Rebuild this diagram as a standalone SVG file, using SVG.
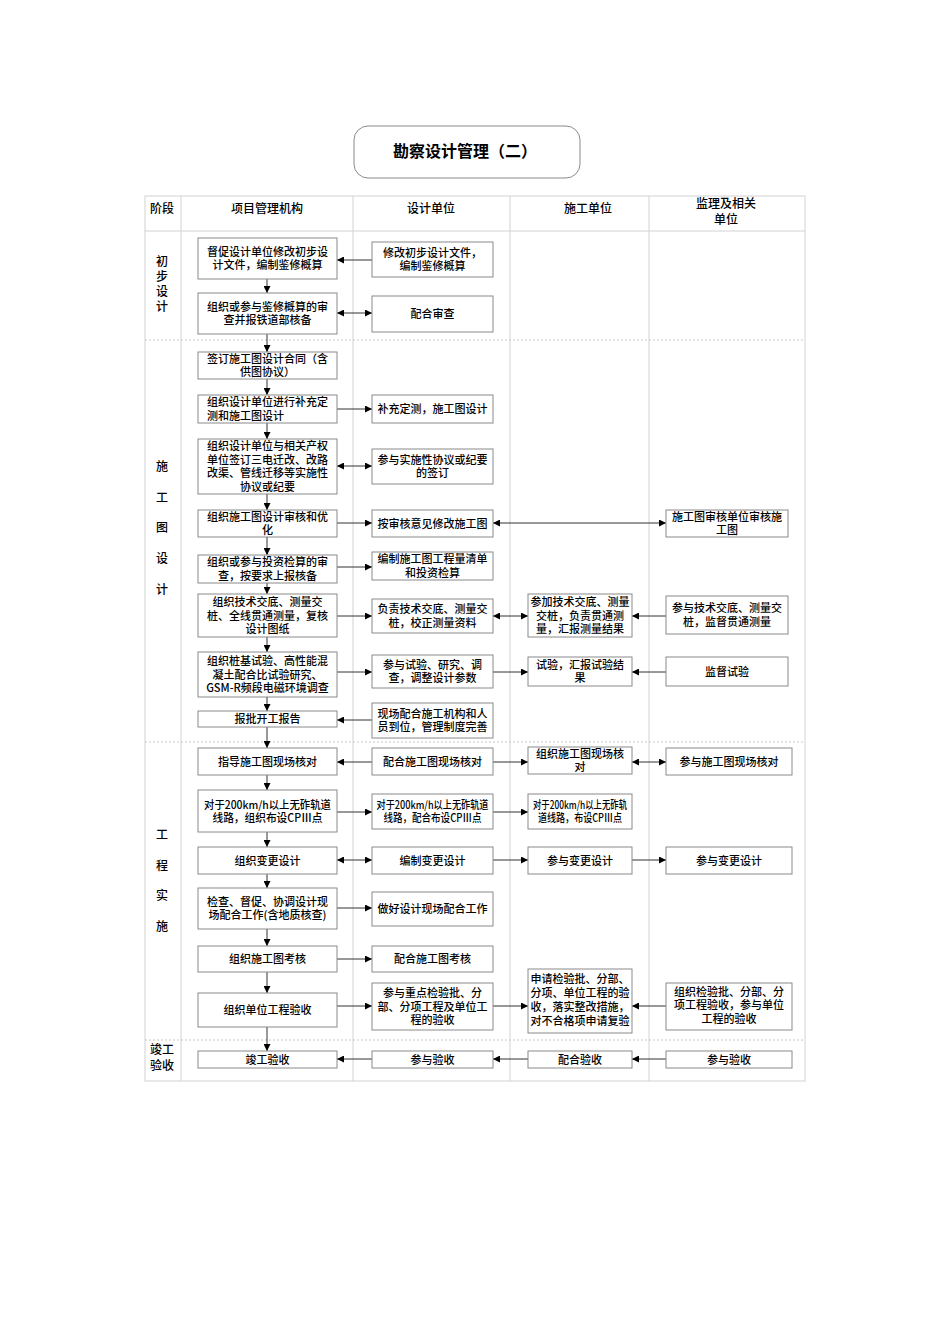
<svg xmlns="http://www.w3.org/2000/svg" width="950" height="1344" viewBox="0 0 950 1344">
<style>
text{font-family:"Noto Sans CJK SC","Noto Sans CJK JP",sans-serif;font-size:11px;fill:#000;text-anchor:middle;font-weight:500}
.hd{font-size:12px}
.st{font-size:12px}
.title{font-size:16px;font-weight:bold}
.box{fill:#fff;stroke:#8a8a8a;stroke-width:1}
.grid{stroke:#d2d2d2;stroke-width:1;fill:none}
.dash{stroke:#c8c8c8;stroke-width:1;stroke-dasharray:2 2;fill:none}
.c{stroke:#333;stroke-width:1;fill:none;marker-end:url(#ah)}
.d{stroke:#333;stroke-width:1;fill:none;marker-end:url(#ah);marker-start:url(#ah)}
</style>
<defs>
<marker id="ah" viewBox="0 0 10 10" refX="10" refY="5" markerWidth="8" markerHeight="7" markerUnits="userSpaceOnUse" orient="auto-start-reverse">
<path d="M0,0 L10,5 L0,10 z" fill="#000"/>
</marker>
</defs>
<rect width="950" height="1344" fill="#fff"/>

<g id="title">
<rect x="354" y="126" width="226" height="52" rx="14" fill="#fff" stroke="#8a8a8a"/>
<text class="title" x="465" y="157">勘察设计管理（二）</text>
</g>

<g id="table">
<rect class="grid" x="145" y="196" width="660" height="885"/>
<line class="grid" x1="145" y1="231" x2="805" y2="231"/>
<line class="grid" x1="181" y1="196" x2="181" y2="1081"/>
<line class="grid" x1="353" y1="196" x2="353" y2="1081"/>
<line class="grid" x1="510" y1="196" x2="510" y2="1081"/>
<line class="grid" x1="649" y1="196" x2="649" y2="1081"/>
<line class="dash" x1="145" y1="340" x2="805" y2="340"/>
<line class="dash" x1="145" y1="742" x2="805" y2="742"/>
<line class="dash" x1="145" y1="1040" x2="805" y2="1040"/>
<text class="hd" x="162" y="213">阶段</text>
<text class="hd" x="267" y="213">项目管理机构</text>
<text class="hd" x="431" y="213">设计单位</text>
<text class="hd" x="588" y="213">施工单位</text>
<text class="hd" x="726" y="208">监理及相关</text>
<text class="hd" x="726" y="224">单位</text>
</g>

<g id="stages">
<text class="st" x="162" y="266">初</text>
<text class="st" x="162" y="281">步</text>
<text class="st" x="162" y="296">设</text>
<text class="st" x="162" y="311">计</text>
<text class="st" x="162" y="471">施</text>
<text class="st" x="162" y="502">工</text>
<text class="st" x="162" y="532">图</text>
<text class="st" x="162" y="563">设</text>
<text class="st" x="162" y="594">计</text>
<text class="st" x="162" y="839">工</text>
<text class="st" x="162" y="870">程</text>
<text class="st" x="162" y="900">实</text>
<text class="st" x="162" y="931">施</text>
<text class="st" x="162" y="1054">竣工</text>
<text class="st" x="162" y="1070">验收</text>
</g>

<g id="connectors">
<line class="c" x1="267" y1="279" x2="267" y2="293"/>
<line class="c" x1="267" y1="334" x2="267" y2="352"/>
<line class="c" x1="267" y1="379" x2="267" y2="395"/>
<line class="c" x1="267" y1="423" x2="267" y2="439"/>
<line class="c" x1="267" y1="494" x2="267" y2="510"/>
<line class="c" x1="267" y1="537" x2="267" y2="555"/>
<line class="c" x1="267" y1="583" x2="267" y2="594"/>
<line class="c" x1="267" y1="637" x2="267" y2="652"/>
<line class="c" x1="267" y1="697" x2="267" y2="711"/>
<line class="c" x1="267" y1="727" x2="267" y2="748"/>
<line class="c" x1="267" y1="775" x2="267" y2="790"/>
<line class="c" x1="267" y1="832" x2="267" y2="847"/>
<line class="c" x1="267" y1="874" x2="267" y2="888"/>
<line class="c" x1="267" y1="929" x2="267" y2="946"/>
<line class="c" x1="267" y1="972" x2="267" y2="993"/>
<line class="c" x1="267" y1="1027" x2="267" y2="1051"/>

<line class="c" x1="372" y1="260" x2="337" y2="260"/>
<line class="d" x1="337" y1="313" x2="372" y2="313"/>
<line class="c" x1="337" y1="409" x2="372" y2="409"/>
<line class="d" x1="337" y1="466" x2="372" y2="466"/>
<line class="c" x1="337" y1="523" x2="372" y2="523"/>
<line class="d" x1="493" y1="523" x2="666" y2="523"/>
<line class="c" x1="337" y1="567" x2="372" y2="567"/>
<line class="c" x1="337" y1="616" x2="372" y2="616"/>
<line class="d" x1="493" y1="616" x2="528" y2="616"/>
<line class="c" x1="666" y1="616" x2="632" y2="616"/>
<line class="c" x1="337" y1="672" x2="372" y2="672"/>
<line class="c" x1="493" y1="672" x2="528" y2="672"/>
<line class="c" x1="666" y1="672" x2="632" y2="672"/>
<line class="c" x1="372" y1="720" x2="337" y2="720"/>
<line class="c" x1="372" y1="762" x2="337" y2="762"/>
<line class="c" x1="493" y1="762" x2="528" y2="762"/>
<line class="d" x1="632" y1="762" x2="666" y2="762"/>
<line class="c" x1="337" y1="812" x2="372" y2="812"/>
<line class="c" x1="493" y1="812" x2="528" y2="812"/>
<line class="d" x1="337" y1="860" x2="372" y2="860"/>
<line class="c" x1="493" y1="860" x2="528" y2="860"/>
<line class="c" x1="632" y1="860" x2="666" y2="860"/>
<line class="c" x1="337" y1="908" x2="372" y2="908"/>
<line class="c" x1="337" y1="959" x2="372" y2="959"/>
<line class="c" x1="337" y1="1006" x2="372" y2="1006"/>
<line class="c" x1="493" y1="1006" x2="528" y2="1006"/>
<line class="c" x1="666" y1="1006" x2="632" y2="1006"/>
<line class="c" x1="372" y1="1059" x2="337" y2="1059"/>
<line class="c" x1="528" y1="1059" x2="493" y2="1059"/>
<line class="c" x1="666" y1="1059" x2="632" y2="1059"/>
</g>

<g id="pmA"><rect class="box" x="198" y="238" width="139" height="41"/><text x="267.5" y="255.5">督促设计单位修改初步设</text><text x="267.5" y="269">计文件，编制鉴修概算</text></g>
<g id="dA"><rect class="box" x="372" y="242" width="121" height="35"/><text x="432.5" y="256.5">修改初步设计文件，</text><text x="432.5" y="270">编制鉴修概算</text></g>
<g id="pmB"><rect class="box" x="198" y="293" width="139" height="41"/><text x="267.5" y="310.5">组织或参与鉴修概算的审</text><text x="267.5" y="324">查并报铁道部核备</text></g>
<g id="dB"><rect class="box" x="372" y="296" width="121" height="36"/><text x="432.5" y="318">配合审查</text></g>
<g id="pmC"><rect class="box" x="198" y="352" width="139" height="27"/><text x="267.5" y="362.5">签订施工图设计合同（含</text><text x="267.5" y="376">供图协议）</text></g>
<g id="pmD"><rect class="box" x="198" y="395" width="139" height="28"/><text x="207" y="406" style="text-anchor:start">组织设计单位进行补充定</text><text x="207" y="419.5" style="text-anchor:start">测和施工图设计</text></g>
<g id="dD"><rect class="box" x="372" y="395" width="121" height="28"/><text x="432.5" y="413">补充定测，施工图设计</text></g>
<g id="pmE"><rect class="box" x="198" y="439" width="139" height="55"/><text x="267.5" y="450">组织设计单位与相关产权</text><text x="267.5" y="463.5">单位签订三电迁改、改路</text><text x="267.5" y="477">改渠、管线迁移等实施性</text><text x="267.5" y="490.5">协议或纪要</text></g>
<g id="dE"><rect class="box" x="372" y="449" width="121" height="35"/><text x="432.5" y="463.5">参与实施性协议或纪要</text><text x="432.5" y="477">的签订</text></g>
<g id="pmF"><rect class="box" x="198" y="510" width="139" height="27"/><text x="267.5" y="520.5">组织施工图设计审核和优</text><text x="267.5" y="534">化</text></g>
<g id="dF"><rect class="box" x="372" y="510" width="121" height="27"/><text x="432.5" y="527.5">按审核意见修改施工图</text></g>
<g id="sF"><rect class="box" x="666" y="510" width="122" height="27"/><text x="727" y="520.5">施工图审核单位审核施</text><text x="727" y="534">工图</text></g>
<g id="pmG"><rect class="box" x="198" y="555" width="139" height="28"/><text x="267.5" y="566">组织或参与投资检算的审</text><text x="267.5" y="579.5">查，按要求上报核备</text></g>
<g id="dG"><rect class="box" x="372" y="552" width="121" height="28"/><text x="432.5" y="563">编制施工图工程量清单</text><text x="432.5" y="576.5">和投资检算</text></g>
<g id="pmH"><rect class="box" x="198" y="594" width="139" height="43"/><text x="267.5" y="606">组织技术交底、测量交</text><text x="267.5" y="619.5">桩、全线贯通测量，复核</text><text x="267.5" y="633">设计图纸</text></g>
<g id="dH"><rect class="box" x="372" y="599" width="121" height="34"/><text x="432.5" y="613">负责技术交底、测量交</text><text x="432.5" y="626.5">桩，校正测量资料</text></g>
<g id="cH"><rect class="box" x="528" y="594" width="104" height="43"/><text x="580" y="606">参加技术交底、测量</text><text x="580" y="619.5">交桩，负责贯通测</text><text x="580" y="633">量，汇报测量结果</text></g>
<g id="sH"><rect class="box" x="666" y="596" width="122" height="38"/><text x="727" y="612">参与技术交底、测量交</text><text x="727" y="625.5">桩，监督贯通测量</text></g>
<g id="pmI"><rect class="box" x="198" y="652" width="139" height="45"/><text x="267.5" y="665">组织桩基试验、高性能混</text><text x="267.5" y="678.5">凝土配合比试验研究、</text><text x="267.5" y="692">GSM-R频段电磁环境调查</text></g>
<g id="dI"><rect class="box" x="372" y="655" width="121" height="33"/><text x="432.5" y="668.5">参与试验、研究、调</text><text x="432.5" y="682">查，调整设计参数</text></g>
<g id="cI"><rect class="box" x="528" y="657" width="104" height="29"/><text x="580" y="668.5">试验，汇报试验结</text><text x="580" y="682">果</text></g>
<g id="sI"><rect class="box" x="666" y="657" width="122" height="29"/><text x="727" y="675.5">监督试验</text></g>
<g id="pmJ"><rect class="box" x="198" y="711" width="139" height="16"/><text x="267.5" y="723">报批开工报告</text></g>
<g id="dJ"><rect class="box" x="372" y="703" width="121" height="35"/><text x="432.5" y="717.5">现场配合施工机构和人</text><text x="432.5" y="731">员到位，管理制度完善</text></g>
<g id="pmK"><rect class="box" x="198" y="748" width="139" height="27"/><text x="267.5" y="765.5">指导施工图现场核对</text></g>
<g id="dK"><rect class="box" x="372" y="748" width="121" height="27"/><text x="432.5" y="765.5">配合施工图现场核对</text></g>
<g id="cK"><rect class="box" x="528" y="747" width="104" height="27"/><text x="580" y="757.5">组织施工图现场核</text><text x="580" y="771">对</text></g>
<g id="sK"><rect class="box" x="666" y="748" width="126" height="27"/><text x="729" y="765.5">参与施工图现场核对</text></g>
<g id="pmL"><rect class="box" x="198" y="790" width="139" height="42"/><text x="267.5" y="808.5" textLength="127" lengthAdjust="spacingAndGlyphs">对于200km/h以上无砟轨道</text><text x="267.5" y="822" textLength="110" lengthAdjust="spacingAndGlyphs">线路，组织布设CPⅢ点</text></g>
<g id="dL"><rect class="box" x="372" y="794" width="121" height="35"/><text x="432.5" y="808.5" textLength="112" lengthAdjust="spacingAndGlyphs">对于200km/h以上无砟轨道</text><text x="432.5" y="822" textLength="98" lengthAdjust="spacingAndGlyphs">线路，配合布设CPⅢ点</text></g>
<g id="cL"><rect class="box" x="528" y="794" width="104" height="35"/><text x="580" y="808.5" textLength="94" lengthAdjust="spacingAndGlyphs">对于200km/h以上无砟轨</text><text x="580" y="822" textLength="84" lengthAdjust="spacingAndGlyphs">道线路，布设CPⅢ点</text></g>
<g id="pmM"><rect class="box" x="198" y="847" width="139" height="27"/><text x="267.5" y="864.5">组织变更设计</text></g>
<g id="dM"><rect class="box" x="372" y="847" width="121" height="27"/><text x="432.5" y="864.5">编制变更设计</text></g>
<g id="cM"><rect class="box" x="528" y="847" width="104" height="27"/><text x="580" y="864.5">参与变更设计</text></g>
<g id="sM"><rect class="box" x="666" y="847" width="126" height="27"/><text x="729" y="864.5">参与变更设计</text></g>
<g id="pmN"><rect class="box" x="198" y="888" width="139" height="41"/><text x="267.5" y="905.5">检查、督促、协调设计现</text><text x="267.5" y="919">场配合工作(含地质核查)</text></g>
<g id="dN"><rect class="box" x="372" y="892" width="121" height="34"/><text x="432.5" y="913">做好设计现场配合工作</text></g>
<g id="pmO"><rect class="box" x="198" y="946" width="139" height="26"/><text x="267.5" y="963">组织施工图考核</text></g>
<g id="dO"><rect class="box" x="372" y="946" width="121" height="26"/><text x="432.5" y="963">配合施工图考核</text></g>
<g id="pmP"><rect class="box" x="198" y="993" width="139" height="34"/><text x="267.5" y="1014">组织单位工程验收</text></g>
<g id="dP"><rect class="box" x="372" y="983" width="121" height="47"/><text x="432.5" y="997">参与重点检验批、分</text><text x="432.5" y="1010.5">部、分项工程及单位工</text><text x="432.5" y="1024">程的验收</text></g>
<g id="cP"><rect class="box" x="528" y="969" width="104" height="64"/><text x="580" y="982.5">申请检验批、分部、</text><text x="580" y="996.5">分项、单位工程的验</text><text x="580" y="1010.5">收，落实整改措施，</text><text x="580" y="1024.5">对不合格项申请复验</text></g>
<g id="sP"><rect class="box" x="666" y="983" width="126" height="47"/><text x="729" y="995.5">组织检验批、分部、分</text><text x="729" y="1009">项工程验收，参与单位</text><text x="729" y="1022.5">工程的验收</text></g>
<g id="pmQ"><rect class="box" x="198" y="1051" width="139" height="17"/><text x="267.5" y="1063.5">竣工验收</text></g>
<g id="dQ"><rect class="box" x="372" y="1051" width="121" height="17"/><text x="432.5" y="1063.5">参与验收</text></g>
<g id="cQ"><rect class="box" x="528" y="1051" width="104" height="17"/><text x="580" y="1063.5">配合验收</text></g>
<g id="sQ"><rect class="box" x="666" y="1051" width="126" height="17"/><text x="729" y="1063.5">参与验收</text></g>
</svg>
